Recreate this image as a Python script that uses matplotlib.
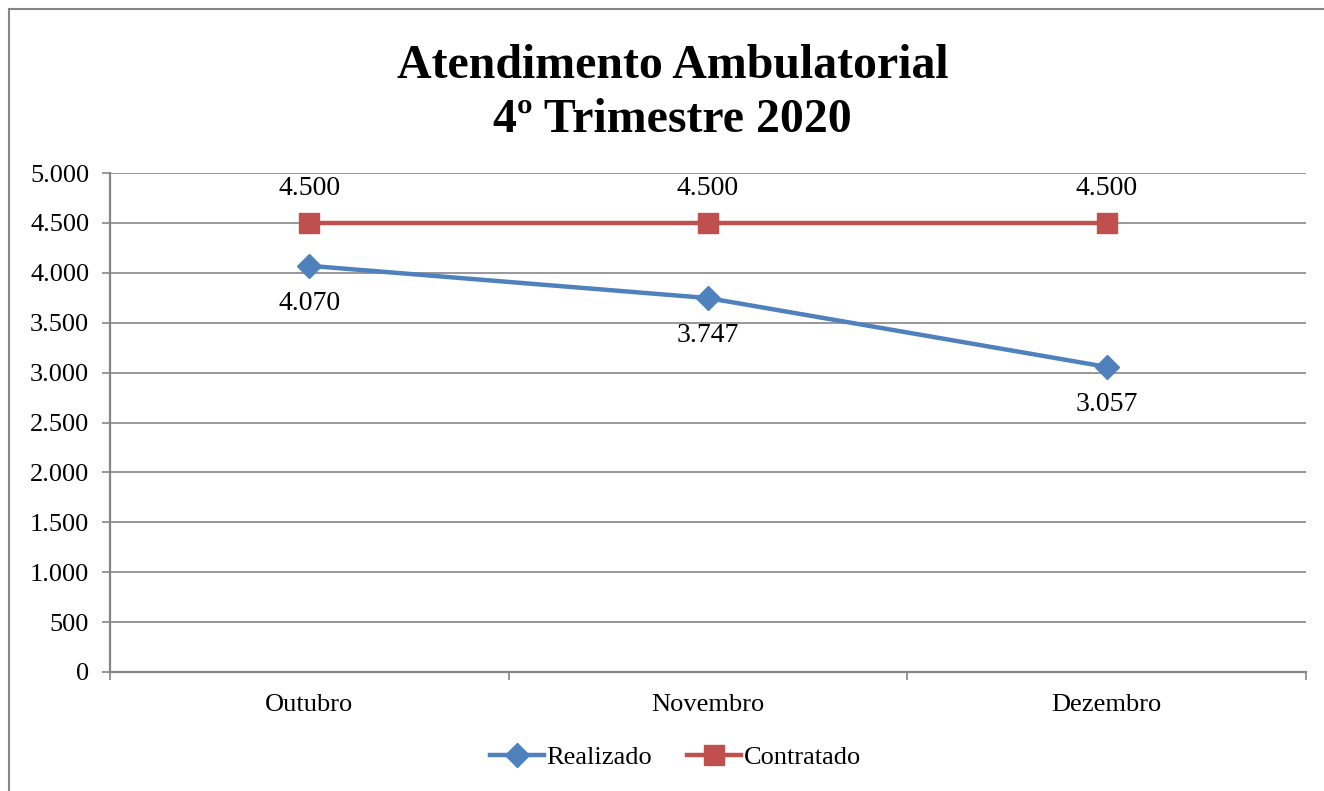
import matplotlib.pyplot as plt
from matplotlib.lines import Line2D
from matplotlib.ticker import FuncFormatter

# --------------------------------------
# DATA
# --------------------------------------

meses = ["Outubro", "Novembro", "Dezembro"]
realizado = [4070, 3747, 3057]
contratado = [4500, 4500, 4500]

azul = "#4F81BD"
vermelho = "#C0504D"
cinza = "#868686"

plt.rcParams["font.family"] = ["Liberation Serif", "DejaVu Serif"]

W, H = 1324, 791
fig = plt.figure(figsize=(W / 100, H / 100), dpi=100)
ax = fig.add_axes([110 / W, 1 - 672 / H, (1306 - 110) / W, (672 - 173) / H])

# --------------------------------------
# LINES
# --------------------------------------

x = list(range(len(meses)))
ax.plot(x, realizado, color=azul, lw=3.2, marker="D", ms=12, label="Realizado", zorder=3)
ax.plot(x, contratado, color=vermelho, lw=3.2, marker="s", ms=14, label="Contratado", zorder=3)

def fmt(v):
    return f"{v:,.0f}".replace(",", ".")

for i, v in enumerate(contratado):
    ax.annotate(fmt(v), (i, v), xytext=(0, 25), textcoords="offset points",
                ha="center", va="center", fontsize=20)
for i, v in enumerate(realizado):
    ax.annotate(fmt(v), (i, v), xytext=(0, -27), textcoords="offset points",
                ha="center", va="center", fontsize=20)

# --------------------------------------
# AXES
# --------------------------------------

ax.set_xlim(-0.5, 2.5)
ax.set_ylim(0, 5000)
ax.set_yticks(range(0, 5001, 500))
ax.yaxis.set_major_formatter(FuncFormatter(lambda v, p: fmt(v)))
ax.set_xticks(x)
ax.set_xticklabels(meses)
ax.set_xticks([-0.5, 0.5, 1.5, 2.5], minor=True)
ax.tick_params(axis="x", which="major", length=0, pad=16, labelsize=19)
ax.tick_params(axis="x", which="minor", length=6, width=1.2, color=cinza)
ax.tick_params(axis="y", length=6, width=1.2, color=cinza, pad=9, labelsize=19)
ax.grid(axis="y", color=cinza, lw=1.2)
ax.set_axisbelow(True)
for s in ["top", "right"]:
    ax.spines[s].set_visible(False)
for s in ["left", "bottom"]:
    ax.spines[s].set_color(cinza)
    ax.spines[s].set_linewidth(1.6)

# --------------------------------------
# TITLE, LEGEND, BORDER
# --------------------------------------

fig.text(0.508, 1 - 93 / H, "Atendimento Ambulatorial\n4º Trimestre 2020", ha="center", va="center",
         fontsize=34.5, fontweight="bold", linespacing=1.3)

fig.legend(loc="center", bbox_to_anchor=(0.51, 1 - 757 / H), ncol=2, frameon=False,
           fontsize=19, handlelength=2.05, handletextpad=0.1, columnspacing=1.3)

fig.add_artist(Line2D([9 / W, 9 / W], [0, 1 - 9 / H], color=cinza, lw=1.5))
fig.add_artist(Line2D([9 / W, 1], [1 - 9 / H, 1 - 9 / H], color=cinza, lw=1.5))

fig.savefig("out.png", dpi=100)
